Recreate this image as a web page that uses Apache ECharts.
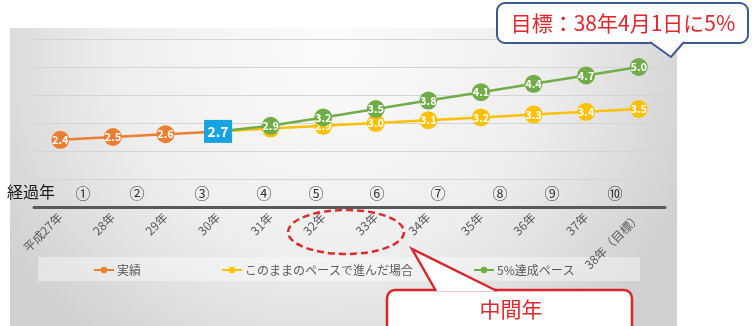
<!DOCTYPE html>
<html>
<head>
<meta charset="utf-8">
<script src="https://cdn.jsdelivr.net/npm/echarts@6/dist/echarts.min.js"></script>
<style>
  html, body { margin: 0; padding: 0; background: #ffffff; }
  #chart { width: 755px; height: 326px; }
</style>
</head>
<body>
<div id="chart"></div>
<script>
// Fiscal years (Heisei era) on the category axis
const categories = ['平成27年', '28年', '29年', '30年', '31年', '32年', '33年', '34年', '35年', '36年', '37年', '38年（目標）'];

// Results to date (%)
const actual = [2.4, 2.5, 2.6, 2.7, null, null, null, null, null, null, null, null];
// If the current pace continues (%)
const currentPace = [null, null, null, 2.7, 2.8, 2.9, 3.0, 3.1, 3.2, 3.3, 3.4, 3.5];
// Pace needed to reach 5% (%)
const targetPace = [null, null, null, 2.7, 2.9, 3.2, 3.5, 3.8, 4.1, 4.4, 4.7, 5.0];

// Elapsed-year row
const elapsedTitle = '経過年';
const elapsedLabels = ['①', '②', '③', '④', '⑤', '⑥', '⑦', '⑧', '⑨', '⑩'];

const seriesNames = ['実績', 'このままのペースで進んだ場合', '5%達成ペース'];
const goalText = '目標：38年4月1日に5%';
const midYearText = '中間年';

const FONT = '"Noto Sans CJK JP", "Noto Sans", sans-serif';
const ORANGE = '#ed7d31', YELLOW = '#ffc000', GREEN = '#70ad47', BLUE = '#17a2e2';

// shared point label: white value text centred on the marker
const pointLabel = {
  show: true,
  position: 'inside',
  color: '#ffffff',
  fontSize: 11,
  fontWeight: 'bold',
  fontFamily: FONT,
  formatter: p => Number(p.value).toFixed(1)
};

// the first point of each projection sits under the last result, so hide it
function projection(values) {
  const first = values.findIndex(v => v !== null);
  return values.map((v, i) => {
    if (v === null) return '-';
    if (i === first) return { value: v, symbolSize: 0, label: { show: false } };
    return v;
  });
}

// last result is shown as a highlighted box
const lastActual = actual.filter(x => x !== null).length - 1;
const actualData = actual.map((v, i) => {
  if (v === null) return '-';
  if (i === lastActual) {
    return {
      value: v,
      symbol: 'rect',
      symbolSize: [28, 23],
      itemStyle: { color: BLUE },
      label: { fontSize: 14 }
    };
  }
  return v;
});

// horizontal positions of the elapsed-year row
const elapsedX = [83, 137, 202, 264, 316, 377, 438, 500, 552, 615];
const elapsedGraphics = [
  { type: 'text', x: 7, y: 192, z: 5,
    style: { text: elapsedTitle, fill: '#1a1a1a', font: '16px ' + FONT, textVerticalAlign: 'middle' } }
].concat(elapsedLabels.map((t, i) => ({
  type: 'text', x: elapsedX[i], y: 193, z: 5,
  style: { text: t, fill: '#333333', font: '15px ' + FONT, textAlign: 'center', textVerticalAlign: 'middle' }
})));

// rounded callout box with a triangular pointer
function callout(box, pointer, stroke, lineWidth) {
  return [
    { type: 'rect', z: 60, silent: true,
      shape: { x: box.x, y: box.y, width: box.w, height: box.h, r: 8 },
      style: { fill: '#ffffff', stroke: stroke, lineWidth: lineWidth } },
    { type: 'polygon', z: 61, silent: true,
      shape: { points: pointer },
      style: { fill: '#ffffff' } },
    { type: 'polyline', z: 62, silent: true,
      shape: { points: pointer },
      style: { fill: 'none', stroke: stroke, lineWidth: lineWidth } }
  ];
}

const legendCommon = {
  top: 259,
  itemWidth: 20,
  itemHeight: 8,
  itemGap: 4,
  textStyle: { color: '#595959', fontSize: 12, fontFamily: FONT, padding: [0, 0, 0, -2] }
};

const option = {
  animation: false,
  backgroundColor: '#ffffff',
  textStyle: { fontFamily: FONT },
  grid: { left: 34, right: 90, top: 39, bottom: 119, containLabel: false },
  legend: [
    Object.assign({ left: 88, data: [seriesNames[0]] }, legendCommon),
    Object.assign({ left: 216, data: [seriesNames[1]] }, legendCommon),
    Object.assign({ left: 468, data: [seriesNames[2]] }, legendCommon)
  ],
  xAxis: {
    type: 'category',
    data: categories,
    boundaryGap: true,
    axisLine: { show: true, lineStyle: { color: '#595959', width: 3 } },
    axisTick: { show: false },
    axisLabel: {
      interval: 0,
      rotate: 45,
      margin: 8,
      color: '#595959',
      fontSize: 12,
      fontFamily: FONT
    },
    z: 3
  },
  yAxis: {
    type: 'value',
    min: 0,
    max: 6,
    interval: 1,
    axisLine: { show: false },
    axisTick: { show: false },
    axisLabel: { show: false },
    splitLine: { lineStyle: { color: '#d4d4d4', width: 1 } }
  },
  series: [
    {
      name: seriesNames[1],
      type: 'line',
      data: projection(currentPace),
      symbol: 'circle',
      symbolSize: 18,
      lineStyle: { color: YELLOW, width: 2.5 },
      itemStyle: { color: YELLOW },
      label: pointLabel,
      z: 2
    },
    {
      name: seriesNames[2],
      type: 'line',
      data: projection(targetPace),
      symbol: 'circle',
      symbolSize: 18,
      lineStyle: { color: GREEN, width: 2.5 },
      itemStyle: { color: GREEN },
      label: pointLabel,
      z: 3
    },
    {
      name: seriesNames[0],
      type: 'line',
      data: actualData,
      symbol: 'circle',
      symbolSize: 18,
      lineStyle: { color: ORANGE, width: 2.5 },
      itemStyle: { color: ORANGE },
      label: pointLabel,
      z: 4
    }
  ],
  graphic: {
    elements: [
      // shaded chart panel
      { type: 'rect', z: -20, silent: true,
        shape: { x: 10, y: 28, width: 667, height: 310 },
        style: {
          fill: {
            type: 'radial', x: 0.48, y: 0.05, r: 1.25,
            colorStops: [
              { offset: 0, color: '#fcfcfc' },
              { offset: 0.55, color: '#eeeeee' },
              { offset: 1, color: '#d0d0d0' }
            ]
          }
        }
      },
      // legend strip
      { type: 'rect', z: -10, silent: true,
        shape: { x: 38, y: 257, width: 602, height: 24 },
        style: { fill: 'rgba(255,255,255,0.4)' }
      },
      // dashed ring around the mid years
      { type: 'ellipse', z: 50, silent: true,
        shape: { cx: 346, cy: 232, rx: 58, ry: 22 },
        style: { fill: 'none', stroke: '#dd2a2f', lineWidth: 2.5, lineDash: [7, 4] }
      },
      { type: 'text', z: 63, x: 623, y: 23, silent: true,
        style: { text: goalText, fill: '#e0262b', font: '21px ' + FONT, textAlign: 'center', textVerticalAlign: 'middle' }
      },
      { type: 'text', z: 63, x: 511, y: 309, silent: true,
        style: { text: midYearText, fill: '#e0262b', font: '21px ' + FONT, textAlign: 'center', textVerticalAlign: 'middle' }
      }
    ]
      // goal callout, pointer on the bottom edge
      .concat(callout({ x: 497, y: 3, w: 251, h: 40 }, [[650, 42], [671, 57], [684, 42]], '#3b5a94', 2))
      // mid-year callout, pointer on the top edge
      .concat(callout({ x: 387, y: 290, w: 245, h: 50 }, [[436, 291], [412, 249], [497, 291]], '#d9262b', 2.5))
      .concat(elapsedGraphics)
  }
};

const chart = echarts.init(document.getElementById('chart'), null, { renderer: 'canvas' });
chart.setOption(option);
</script>
</body>
</html>
